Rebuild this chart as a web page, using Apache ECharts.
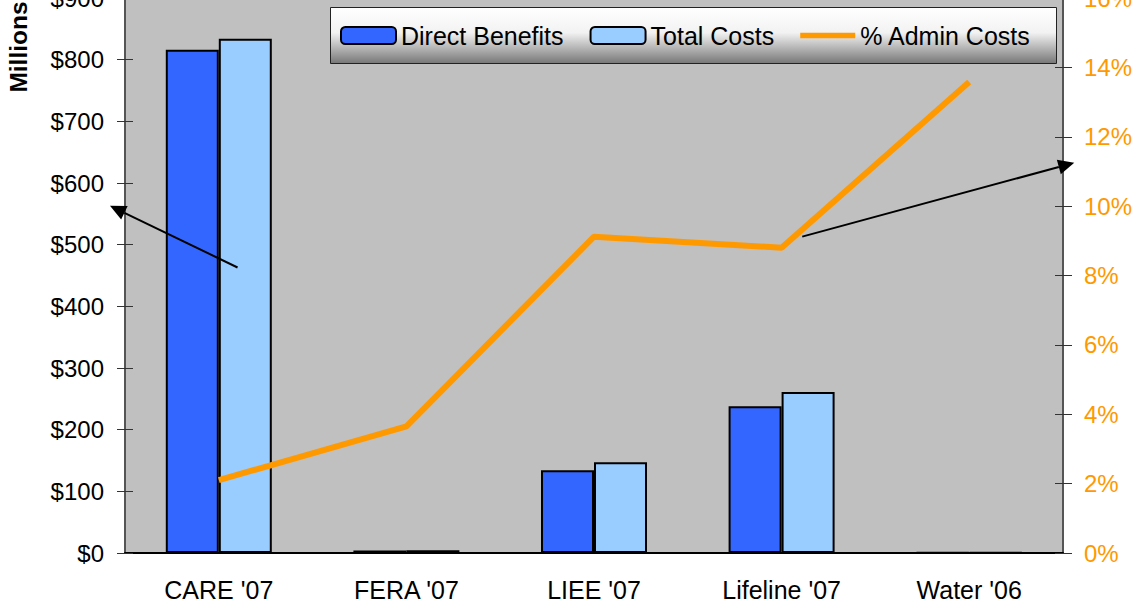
<!DOCTYPE html>
<html><head><meta charset="utf-8">
<script src="https://cdn.jsdelivr.net/npm/echarts@6/dist/echarts.min.js"></script>
<style>html,body{margin:0;padding:0;background:#fff;overflow:hidden}#c{width:1140px;height:607px}</style>
</head><body><div id="c"></div>
<script>
// ---- data ----
const categories = ["CARE '07", "FERA '07", "LIEE '07", "Lifeline '07", "Water '06"];
const directBenefits = [816, 4, 134, 238, 1];
const totalCosts = [834, 4.5, 147, 261, 1];
const adminPct = [2.1, 3.65, 9.12, 8.8, 13.58];
const leftScale = [0, 900, 100];   // min, max, interval ($ millions)
const rightScale = [0, 16, 2];     // min, max, interval (%)
// annotation arrows: [category position, value] from -> to, and which value axis
const arrowLeftFrom = [0.1, 463];
const arrowLeftTo = [-0.58, 563];
const arrowRightFrom = [3.11, 9.12];
const arrowRightTo = [4.56, 11.25];

const FONT = "'Liberation Sans', Arial, Helvetica, sans-serif";
const chart = echarts.init(document.getElementById('c'), null, {renderer: 'svg'});

const valAxisBase = (scale) => ({
  type: 'value', min: scale[0], max: scale[1], interval: scale[2],
  splitLine: {show: false}
});

chart.setOption({
  animation: false,
  backgroundColor: '#ffffff',
  textStyle: {fontFamily: FONT},
  grid: {left: 125, right: 77, top: -2, bottom: 54, show: true,
         containLabel: false, outerBoundsMode: 'none',
         backgroundColor: '#c0c0c0', borderWidth: 0},
  legend: {
    left: 340, top: 23, padding: 0, itemGap: 26,
    itemWidth: 55, itemHeight: 17, z: 20,
    textStyle: {fontFamily: FONT, fontSize: 25, color: '#000'},
    data: ['Direct Benefits', 'Total Costs',
           {name: '% Admin Costs', icon: 'path://M0,0H58V6H0Z'}]
  },
  xAxis: [{
    type: 'category', data: categories,
    axisLine: {lineStyle: {color: '#000', width: 2}},
    axisTick: {length: 13, lineStyle: {color: '#444', width: 1}},
    axisLabel: {fontFamily: FONT, fontSize: 25, color: '#000', margin: 24}
  }],
  yAxis: [
    Object.assign(valAxisBase(leftScale), {
      position: 'left',
      axisLine: {show: true, lineStyle: {color: '#555', width: 2}},
      axisTick: {show: true, length: 8, lineStyle: {color: '#333'}},
      axisLabel: {fontFamily: FONT, fontSize: 24, color: '#000', margin: 21,
                  formatter: v => '$' + v}
    }),
    Object.assign(valAxisBase(rightScale), {
      position: 'right',
      axisLine: {show: true, lineStyle: {color: '#555', width: 2}},
      axisTick: {show: true, length: 9, lineStyle: {color: '#333'}},
      axisLabel: {fontFamily: FONT, fontSize: 24, color: '#ff9900', margin: 21,
                  formatter: v => v + '%'}
    }),
    Object.assign(valAxisBase(leftScale), {
      position: 'left',
      axisLine: {show: false},
      axisTick: {show: true, inside: true, length: 8, lineStyle: {color: '#333'}},
      axisLabel: {show: false}
    }),
    Object.assign(valAxisBase(rightScale), {
      position: 'right',
      axisLine: {show: false},
      axisTick: {show: true, inside: true, length: 8, lineStyle: {color: '#333'}},
      axisLabel: {show: false}
    })
  ],
  series: [
    {name: 'Direct Benefits', type: 'bar', data: directBenefits, yAxisIndex: 0,
     barWidth: 53, barGap: '0%',
     itemStyle: {color: '#3366ff', borderColor: '#000', borderWidth: 2}},
    {name: 'Total Costs', type: 'bar', data: totalCosts, yAxisIndex: 0,
     barWidth: 53, barGap: '0%',
     itemStyle: {color: '#99ccff', borderColor: '#000', borderWidth: 2}},
    {name: '% Admin Costs', type: 'line', data: adminPct, yAxisIndex: 1,
     symbol: 'none', showSymbol: false, z: 5,
     lineStyle: {color: '#ff9900', width: 6},
     itemStyle: {color: '#ff9900'}}
  ]
});

function toPx(pt, axis) {
  const c0 = chart.convertToPixel({xAxisIndex: 0}, 0);
  const c1 = chart.convertToPixel({xAxisIndex: 0}, 1);
  const x = c0 + pt[0] * (c1 - c0);
  const y = chart.convertToPixel({yAxisIndex: axis}, pt[1]);
  return [x, y];
}
function arrow(fromPt, toPt, axis) {
  const a = toPx(fromPt, axis), b = toPx(toPt, axis);
  const dx = b[0] - a[0], dy = b[1] - a[1];
  const len = Math.sqrt(dx * dx + dy * dy);
  const ux = dx / len, uy = dy / len;
  const hl = 16, hw = 7.5;
  const bx = b[0] - ux * hl, by = b[1] - uy * hl;
  return [
    {type: 'line', z: 30, shape: {x1: a[0], y1: a[1], x2: bx, y2: by},
     style: {stroke: '#000', lineWidth: 2}},
    {type: 'polygon', z: 30,
     shape: {points: [b, [bx - uy * hw, by + ux * hw], [bx + uy * hw, by - ux * hw]]},
     style: {fill: '#000'}}
  ];
}

chart.setOption({
  graphic: [
    {type: 'rect', z: 3, shape: {x: 330.5, y: 7.5, width: 726, height: 56},
     style: {stroke: '#222', lineWidth: 1,
       fill: new echarts.graphic.LinearGradient(0, 0, 0, 1, [
         {offset: 0, color: '#ffffff'}, {offset: 0.45, color: '#f2f2f2'},
         {offset: 1, color: '#777777'}])}},
    {type: 'text', z: 30, x: 18, y: 47, rotation: Math.PI / 2,
     style: {text: 'Millions', font: 'bold 24.5px ' + FONT, fill: '#000',
             align: 'center', verticalAlign: 'middle'}}
  ].concat(arrow(arrowLeftFrom, arrowLeftTo, 0), arrow(arrowRightFrom, arrowRightTo, 1))
});
</script>
</body></html>
